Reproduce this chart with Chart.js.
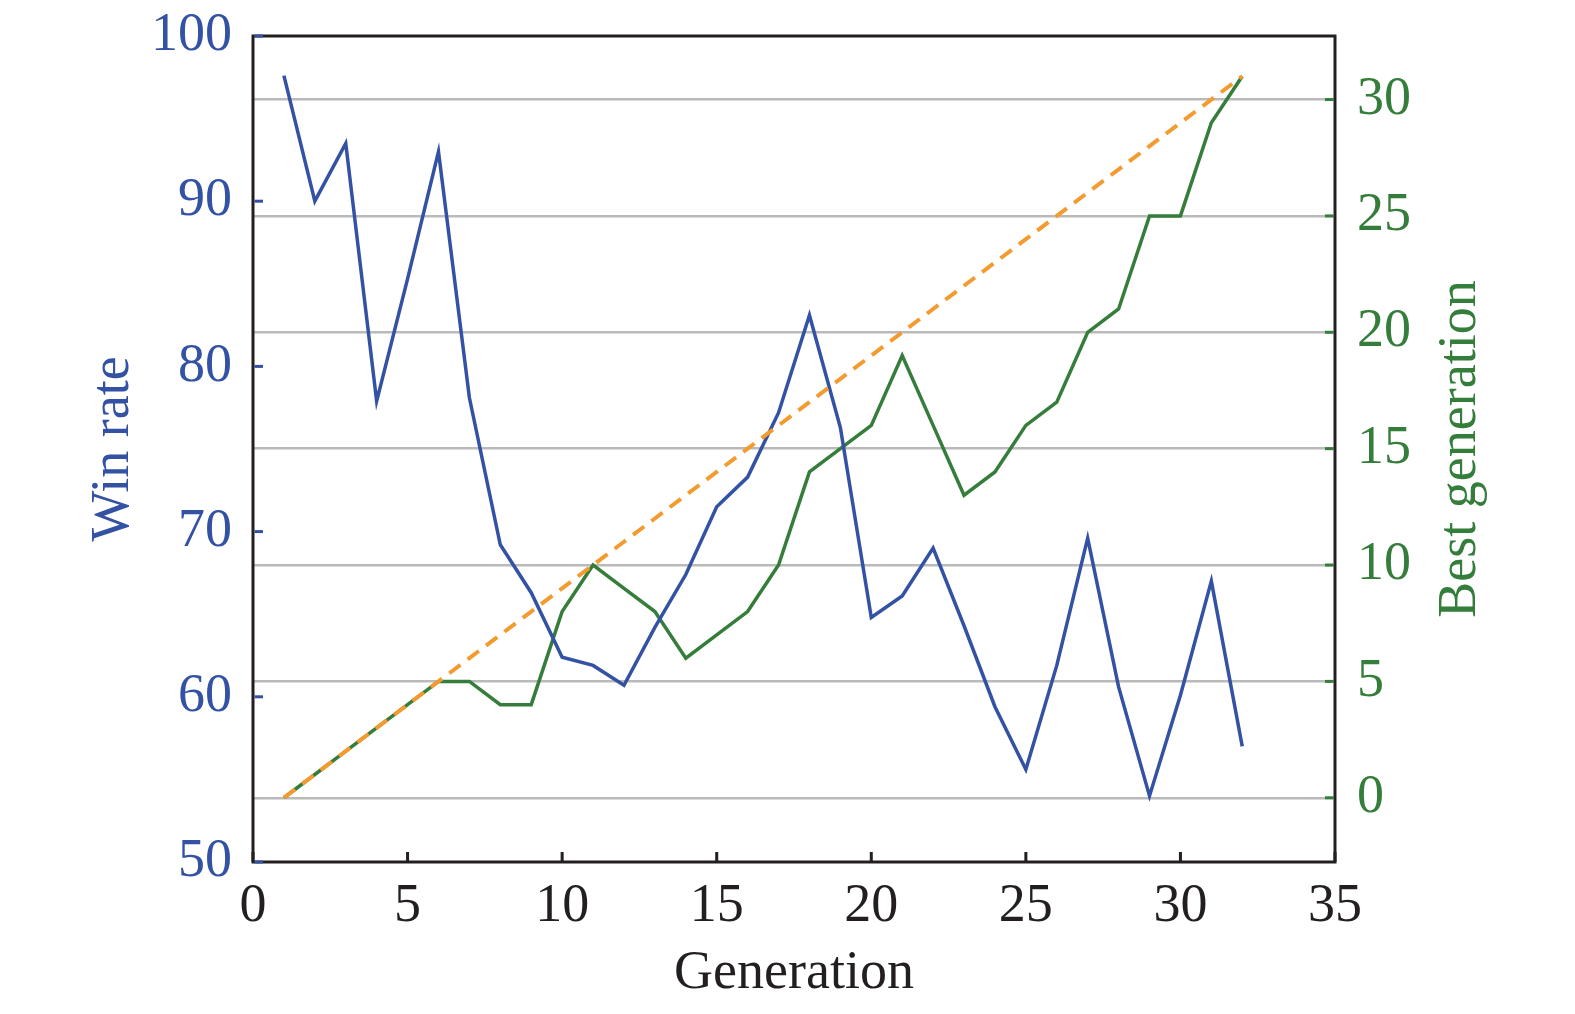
<!DOCTYPE html>
<html>
<head>
<meta charset="utf-8">
<script src="https://cdn.jsdelivr.net/npm/chart.js@4.4.1/dist/chart.umd.min.js"></script>
<style>
  html, body { margin: 0; padding: 0; background: #ffffff; }
  #chart { display: block; }
</style>
</head>
<body>
<canvas id="chart" width="1575" height="1014"></canvas>
<script>
// ---- data ----
const generations = [1, 2, 3, 4, 5, 6, 7, 8, 9, 10, 11, 12, 13, 14, 15, 16,
                     17, 18, 19, 20, 21, 22, 23, 24, 25, 26, 27, 28, 29, 30, 31, 32];
const winRate = [97.6, 90.0, 93.5, 77.9, 85.3, 93.0, 78.1, 69.2, 66.3, 62.4, 61.9, 60.7,
                 64.2, 67.4, 71.5, 73.3, 77.2, 83.1, 76.3, 64.8, 66.1, 69.0, 64.3, 59.4,
                 55.6, 61.9, 69.6, 60.6, 54.0, 60.1, 67.0, 57.0];
const bestGeneration = [0, 1, 2, 3, 4, 5, 5, 4, 4, 8, 10, 9, 8, 6, 7, 8,
                        10, 14, 15, 16, 19, 16, 13, 14, 16, 17, 20, 21, 25, 25, 29, 31];
const currentGeneration = [0, 1, 2, 3, 4, 5, 6, 7, 8, 9, 10, 11, 12, 13, 14, 15,
                           16, 17, 18, 19, 20, 21, 22, 23, 24, 25, 26, 27, 28, 29, 30, 31];

const xTicks = [0, 5, 10, 15, 20, 25, 30, 35];
const yTicks = [50, 60, 70, 80, 90, 100];
const y2Ticks = [0, 5, 10, 15, 20, 25, 30];

const BLUE = '#3352a4';
const GREEN = '#357d3a';
const ORANGE = '#f49b30';
const FRAME = '#231f20';
const FONT = '"Liberation Serif", "Times New Roman", serif';
const FONT_SIZE = 54;

const toPoints = (ys) => generations.map((g, i) => ({ x: g, y: ys[i] }));
const setTicks = (values) => (scale) => { scale.ticks = values.map(v => ({ value: v })); };
// фиксированный размер оси, без лишних отступов под подписи
const fixSize = (prop, size) => (s) => {
    s[prop] = size;
    s.paddingTop = 0; s.paddingBottom = 0; s.paddingLeft = 0; s.paddingRight = 0;
};

// рамка, внутренние засечки и правая подпись оси
const framePlugin = {
    id: 'frame',
    afterDraw(chart) {
        const { ctx, chartArea: a, scales } = chart;
        ctx.save();
        ctx.lineWidth = 3;
        ctx.strokeStyle = FRAME;
        ctx.strokeRect(a.left, a.top, a.right - a.left, a.bottom - a.top);

        const len = 10;
        ctx.lineWidth = 3;
        ctx.strokeStyle = FRAME;
        scales.x.ticks.forEach(t => {
            const px = scales.x.getPixelForValue(t.value);
            ctx.beginPath(); ctx.moveTo(px, a.bottom); ctx.lineTo(px, a.bottom - len); ctx.stroke();
        });
        ctx.strokeStyle = BLUE;
        scales.y.ticks.forEach(t => {
            const py = scales.y.getPixelForValue(t.value);
            ctx.beginPath(); ctx.moveTo(a.left + 1.5, py); ctx.lineTo(a.left + len, py); ctx.stroke();
        });
        ctx.strokeStyle = GREEN;
        scales.y2.ticks.forEach(t => {
            const py = scales.y2.getPixelForValue(t.value);
            ctx.beginPath(); ctx.moveTo(a.right - 1.5, py); ctx.lineTo(a.right - len, py); ctx.stroke();
        });

        ctx.translate(a.right + 140, (a.top + a.bottom) / 2);
        ctx.rotate(-Math.PI / 2);
        ctx.font = FONT_SIZE + 'px ' + FONT;
        ctx.fillStyle = GREEN;
        ctx.textAlign = 'center';
        ctx.textBaseline = 'alphabetic';
        ctx.fillText('Best generation', 0, 0);
        ctx.restore();
    }
};

new Chart(document.getElementById('chart'), {
    type: 'line',
    data: {
        datasets: [
            {
                label: 'Current generation',
                data: toPoints(currentGeneration),
                yAxisID: 'y2',
                borderColor: ORANGE,
                borderWidth: 4,
                borderDash: [14, 9],
                pointRadius: 0,
                tension: 0,
                fill: false
            },
            {
                label: 'Win rate',
                data: toPoints(winRate),
                yAxisID: 'y',
                borderColor: BLUE,
                borderWidth: 3.5,
                pointRadius: 0,
                tension: 0,
                fill: false
            },
            {
                label: 'Best generation',
                data: toPoints(bestGeneration),
                yAxisID: 'y2',
                borderColor: GREEN,
                borderWidth: 3.5,
                pointRadius: 0,
                tension: 0,
                fill: false
            }
        ]
    },
    options: {
        responsive: false,
        animation: false,
        devicePixelRatio: 1,
        layout: { padding: { top: 36, left: 0, right: 0, bottom: 0 } },
        plugins: {
            legend: { display: false },
            tooltip: { enabled: false }
        },
        scales: {
            x: {
                type: 'linear',
                min: 0,
                max: 35,
                afterBuildTicks: setTicks(xTicks),
                afterFit: fixSize('height', 152),
                grid: { display: false, drawTicks: false },
                border: { display: false },
                ticks: { color: FRAME, font: { family: FONT, size: FONT_SIZE }, padding: 12, maxRotation: 0 },
                title: {
                    display: true, text: 'Generation', color: FRAME,
                    font: { family: FONT, size: FONT_SIZE }, padding: { top: 0, bottom: 8 }
                }
            },
            y: {
                type: 'linear',
                position: 'left',
                min: 50,
                max: 100,
                afterBuildTicks: setTicks(yTicks),
                afterFit: fixSize('width', 253),
                grid: { display: false, drawTicks: false },
                border: { display: false },
                ticks: { color: BLUE, font: { family: FONT, size: FONT_SIZE }, padding: 21 },
                title: {
                    display: true, text: 'Win rate', color: BLUE,
                    font: { family: FONT, size: FONT_SIZE }, padding: { top: 81, bottom: 0 }
                }
            },
            y2: {
                type: 'linear',
                position: 'right',
                min: -2.76,
                max: 32.73,
                afterBuildTicks: setTicks(y2Ticks),
                afterFit: fixSize('width', 240),
                grid: { display: true, drawOnChartArea: true, drawTicks: false, color: '#bababa', lineWidth: 2.5 },
                border: { display: false },
                ticks: { color: GREEN, font: { family: FONT, size: FONT_SIZE }, padding: 22 }
            }
        }
    },
    plugins: [framePlugin]
});
</script>
</body>
</html>
